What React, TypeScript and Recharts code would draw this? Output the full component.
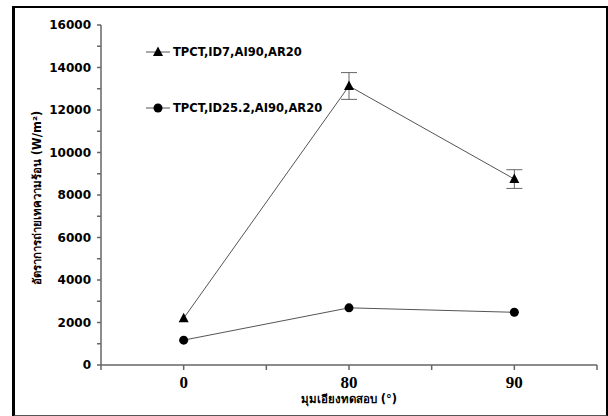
import React from "react";
import { LineChart, Line, XAxis, YAxis, Legend, ErrorBar, Label } from "recharts";

const categories = ["0", "80", "90"];
const id7Values = [2200, 13130, 8750];
const id7Errors = [0, 630, 440];
const id25Values = [1170, 2690, 2480];
const yTicks = [0, 1000, 2000, 3000, 4000, 5000, 6000, 7000, 8000, 9000, 10000, 11000, 12000, 13000, 14000, 15000, 16000];
const xTicks = [-0.5, 0, 0.5, 1, 1.5, 2, 2.5];
const legendNames = ["TPCT,ID7,AI90,AR20", "TPCT,ID25.2,AI90,AR20"];

const data = categories.map((c, i) => ({
  x: i,
  id7: id7Values[i],
  id7Err: id7Errors[i],
  id25: id25Values[i],
}));

const LINE = "#555";
const AXIS = "#666";
const SANS = "Tahoma, 'DejaVu Sans', 'Liberation Sans', sans-serif";

function Triangle(props: any) {
  const { cx, cy } = props;
  if (cx == null || cy == null) return null;
  return <polygon points={`${cx},${cy - 5.5} ${cx - 5},${cy + 4} ${cx + 5},${cy + 4}`} fill="#000" />;
}

function LegendBox() {
  return (
    <div style={{ fontFamily: SANS, fontWeight: 700, fontSize: 11.5, color: "#000" }}>
      {legendNames.map((name, i) => (
        <div key={name} style={{ display: "flex", alignItems: "center", height: 16, marginBottom: i === 0 ? 40 : 0 }}>
          <svg width={26} height={12} style={{ marginRight: 2 }}>
            <line x1={1} y1={6} x2={25} y2={6} stroke={LINE} strokeWidth={1} />
            {i === 0 ? (
              <polygon points="13,0.5 8,10 18,10" fill="#000" />
            ) : (
              <circle cx={13} cy={6} r={4.5} fill="#000" />
            )}
          </svg>
          <span>{name}</span>
        </div>
      ))}
    </div>
  );
}

export default function App() {
  return (
    <div style={{ position: "absolute", left: 0, top: 0, width: 608, height: 416, background: "#fff" }}>
      <div
        style={{
          position: "absolute",
          left: 12,
          top: 6,
          width: 591,
          height: 407,
          borderLeft: "3px solid #000",
          borderRight: "3px solid #000",
          borderTop: "2px solid #000",
          borderBottom: "2px solid #555",
        }}
      />
      <LineChart
        width={608}
        height={416}
        data={data}
        margin={{ top: 25, right: 11, bottom: 21, left: 41 }}
        style={{ position: "absolute", left: 0, top: 0 }}
      >
        <XAxis
          dataKey="x"
          type="number"
          domain={[-0.5, 2.5]}
          ticks={xTicks}
          interval={0}
          height={30}
          stroke={AXIS}
          strokeWidth={1.5}
          tickSize={5}
          tickMargin={6}
          tickFormatter={(v: number) => (Number.isInteger(v) ? categories[v] : "")}
          tick={{ fill: "#000", fontSize: 17, fontWeight: 700, fontFamily: "'Liberation Serif', serif" }}
        >
          <Label
            content={(p: any) => {
              const vb = p.viewBox || {};
              return (
                <text
                  x={vb.x + vb.width / 2}
                  y={vb.y + 34}
                  textAnchor="middle"
                  dominantBaseline="middle"
                  fontFamily={SANS}
                  fontWeight={700}
                  fontSize={11.5}
                  fill="#000"
                >
                  มุมเอียงทดสอบ  (°)
                </text>
              );
            }}
          />
        </XAxis>
        <YAxis
          type="number"
          domain={[0, 16000]}
          ticks={yTicks}
          interval={0}
          width={60}
          stroke={AXIS}
          strokeWidth={1.5}
          tickSize={4}
          tickMargin={6}
          tickFormatter={(v: number) => (v % 2000 === 0 ? String(v) : "")}
          tick={{ fill: "#000", fontSize: 12, fontWeight: 700, fontFamily: SANS }}
        >
          <Label
            content={(p: any) => {
              const vb = p.viewBox || {};
              const cx = 37;
              const cy = vb.y + vb.height / 2 + 3;
              return (
                <text
                  x={cx}
                  y={cy}
                  transform={`rotate(-90 ${cx} ${cy})`}
                  textAnchor="middle"
                  dominantBaseline="middle"
                  fontFamily={SANS}
                  fontWeight={700}
                  fontSize={11.5}
                  fill="#000"
                >
                  อัตราการถ่ายเทความร้อน  (W/m²)
                </text>
              );
            }}
          />
        </YAxis>
        <Legend
          layout="horizontal"
          verticalAlign="middle"
          align="center"
          content={() => <LegendBox />}
          wrapperStyle={{ position: "absolute", left: 145, top: 44, width: 260 }}
        />
        <Line
          dataKey="id7"
          name={legendNames[0]}
          stroke={LINE}
          strokeWidth={1}
          dot={<Triangle />}
          activeDot={false}
          isAnimationActive={false}
        >
          <ErrorBar dataKey="id7Err" width={8} stroke={AXIS} strokeWidth={1} direction="y" />
        </Line>
        <Line
          dataKey="id25"
          name={legendNames[1]}
          stroke={LINE}
          strokeWidth={1}
          dot={{ r: 4.5, fill: "#000", stroke: "#000", strokeWidth: 0 }}
          activeDot={false}
          isAnimationActive={false}
        />
      </LineChart>
    </div>
  );
}
